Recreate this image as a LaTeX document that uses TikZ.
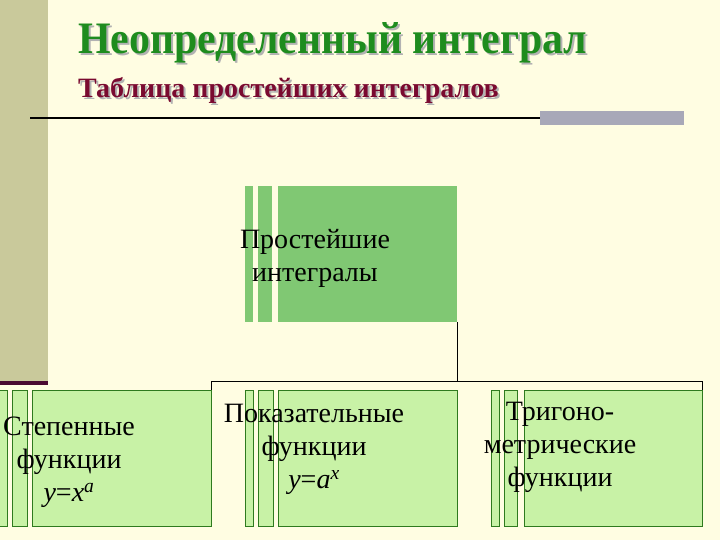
\documentclass[tikz,border=0pt]{standalone}
\usepackage{fontspec}
\setmainfont{Liberation Serif}
\definecolor{bgc}{HTML}{FFFDE2}
\definecolor{band}{HTML}{C9C99B}
\definecolor{maroon}{HTML}{4A0A30}
\definecolor{titlegreen}{HTML}{1E8C1E}
\definecolor{subred}{HTML}{7A0A30}
\definecolor{topgreen}{HTML}{80C873}
\definecolor{lightgreen}{HTML}{C8F2A6}
\definecolor{darkgreen}{HTML}{2E7A1E}
\definecolor{barGray}{HTML}{A8A8B8}
\newcommand{\shadowtext}[2]{\makebox[0pt][l]{\hspace{2pt}\raisebox{-2pt}{\color{gray!60}#2}}{\color{#1}#2}}
\tikzset{
  mainbox/.style={rectangle, inner sep=0pt, outer sep=0pt, minimum width=179pt, minimum height=136pt},
  topbox/.style={mainbox, fill=topgreen},
  lowbox/.style={mainbox, fill=lightgreen, draw=darkgreen, line width=0.8pt},
  topstrip/.style={fill=topgreen},
  lowstrip/.style={fill=lightgreen, draw=darkgreen, line width=0.8pt},
  conn/.style={draw=black, line width=1pt},
  boxtext/.style={align=center, font=\fontsize{28}{33}\selectfont, text=black, inner sep=0pt},
  titlefont/.style={font=\bfseries\fontsize{45}{45}\selectfont, xscale=0.93},
  subfont/.style={font=\bfseries\fontsize{28}{28}\selectfont},
}
\begin{document}
\begin{tikzpicture}[x=1pt,y=-1pt]
\useasboundingbox (0,0) rectangle (720,540);
\fill[bgc] (0,0) rectangle (720,540);
% left band
\fill[band] (0,0) rectangle (48,382);
\fill[maroon] (0,381) rectangle (48,385);
% title
\node[anchor=base west, inner sep=0pt, titlefont] (title) at (78,54) {\shadowtext{titlegreen}{Неопределенный интеграл}};
\node[anchor=base west, inner sep=0pt, subfont] (subtitle) at (78,98) {\shadowtext{subred}{Таблица простейших интегралов}};
% rule
\draw[line width=2pt, black] (30,118) -- (540,118);
\fill[barGray] (540,111) rectangle (684,125);
% top box
\fill[topstrip] (245,186) rectangle (253,322);
\fill[topstrip] (258,186) rectangle (272,322);
\node[topbox] (top) at (367.5,254) {};
\node[boxtext] (toptext) at (315,258) {Простейшие\\интегралы};
% bottom boxes
\filldraw[lowstrip] (-1,390) rectangle (7,526);
\filldraw[lowstrip] (12,390) rectangle (27,526);
\node[lowbox] (b1) at (121.5,458) {};
\filldraw[lowstrip] (245,390) rectangle (253,526);
\filldraw[lowstrip] (258,390) rectangle (273,526);
\node[lowbox] (b2) at (367.5,458) {};
\filldraw[lowstrip] (491,390) rectangle (499,526);
\filldraw[lowstrip] (504,390) rectangle (517,526);
\node[lowbox, minimum width=178pt] (b3) at (613,458) {};
% connectors
\coordinate (j) at (457,381);
\draw[conn] (top.south east) -- (j);
\draw[conn] (b1.north east |- j) -- (b3.north east |- j);
\draw[conn] (b1.north east |- j) -- (b1.north east);
\draw[conn] (b3.north east |- j) -- (b3.north east);
% texts
\node[boxtext] (t1) at (69,462) {Степенные\\функции\\\textit{y}=\textit{x}\textsuperscript{\textit{a}}};
\node[boxtext] (t2) at (314,449) {Показательные\\функции\\\textit{y}=\textit{a}\textsuperscript{\textit{x}}};
\node[boxtext] (t3) at (560,447) {Тригоно-\\метрические\\функции};
\end{tikzpicture}
\end{document}
